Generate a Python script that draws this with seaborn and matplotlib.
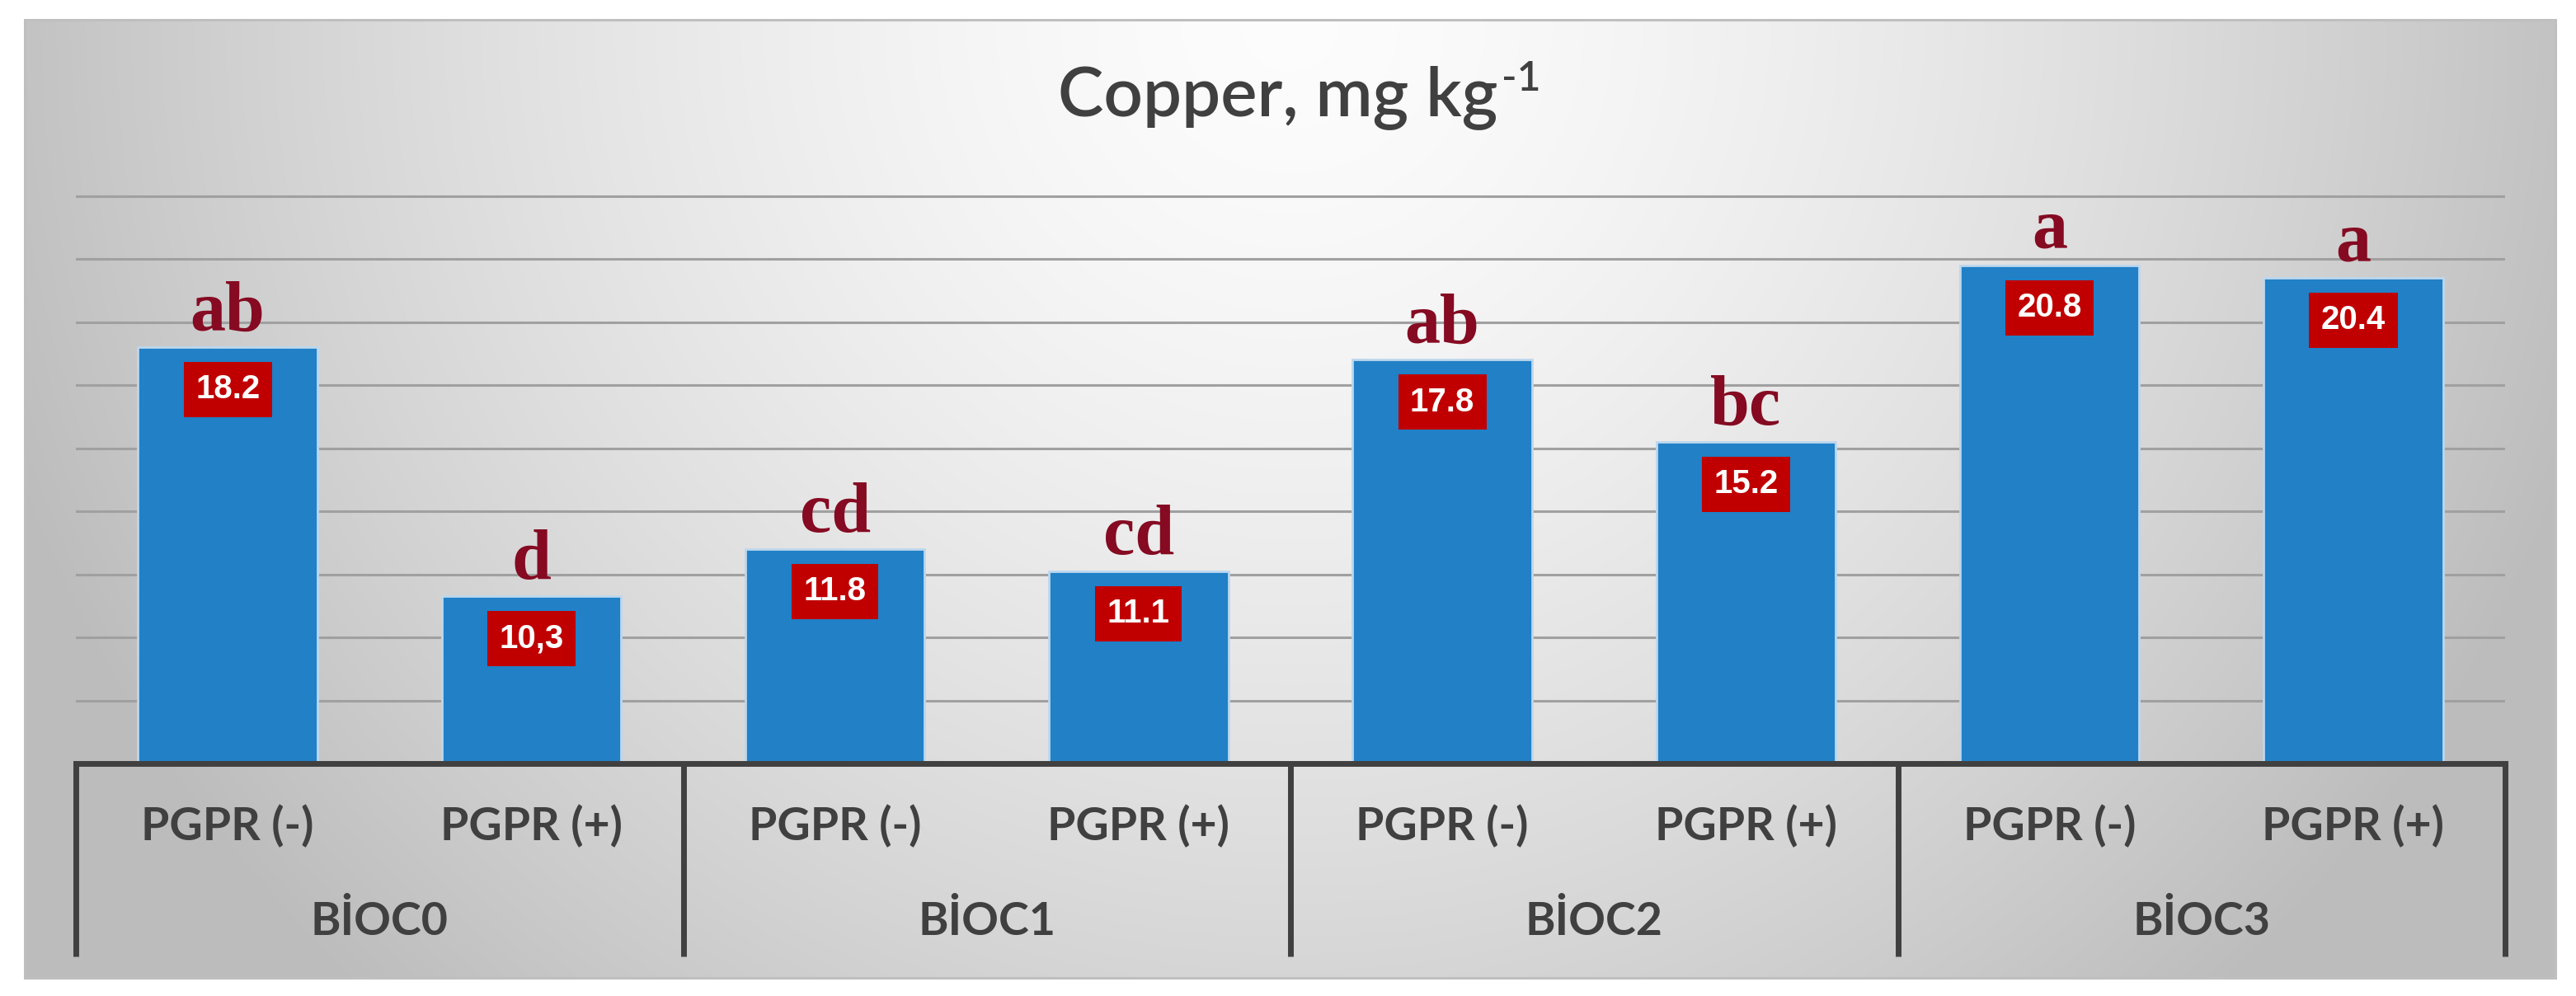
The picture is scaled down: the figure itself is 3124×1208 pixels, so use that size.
import numpy as np
import pandas as pd
import matplotlib
matplotlib.use("Agg")
import matplotlib.pyplot as plt
import matplotlib.transforms as mtransforms
from matplotlib.lines import Line2D
from matplotlib.patches import Rectangle
import seaborn as sns

# ---- data ----
groups = ["BİOC0", "BİOC1", "BİOC2", "BİOC3"]
treatments = ["PGPR (-)", "PGPR (+)"]
values = [18.2, 10.3, 11.8, 11.1, 17.8, 15.2, 20.8, 20.4]
value_labels = ["18.2", "10,3", "11.8", "11.1", "17.8", "15.2", "20.8", "20.4"]
letters = ["ab", "d", "cd", "cd", "ab", "bc", "a", "a"]
title_main = "Copper, mg kg"
title_sup = "-1"
y_min, y_max = 5, 25
y_gridticks = [7, 9, 11, 13, 15, 17, 19, 21, 23]

rows = []
for gi, g in enumerate(groups):
    for ti, t in enumerate(treatments):
        rows.append({"key": f"{g}|{t}", "group": g, "treatment": t,
                     "value": values[gi * 2 + ti]})
df = pd.DataFrame(rows)

sns.set_theme(style="white")
plt.rcParams["font.family"] = ["Lato", "DejaVu Sans"]

W, H = 3124, 1208
fig = plt.figure(figsize=(W / 100, H / 100), dpi=100)
fig.patch.set_facecolor("white")

# ---- gradient background panel ----
fl, fr, ft, fb = 30, 3099, 24, 1186
bg = fig.add_axes([fl / W, 1 - fb / H, (fr - fl) / W, (fb - ft) / H])
nx, ny = 400, 160
xx, yy = np.meshgrid(np.linspace(-1, 1, nx), np.linspace(0, 1, ny))
r = np.sqrt((xx / 1.0) ** 2 + (yy / 1.3) ** 2)
shade = 0.99 - 0.225 * np.clip(r, 0, 1.3) ** 1.5
shade = np.clip(shade, 0.74, 1)
img = np.dstack([shade, shade, shade])
bg.imshow(img, aspect="auto", extent=[0, 1, 0, 1], origin="upper", interpolation="bilinear")
bg.set_xlim(0, 1)
bg.set_ylim(0, 1)
bg.axis("off")
bg.add_patch(Rectangle((0, 0), 1, 1, transform=bg.transAxes, fill=False,
                       edgecolor="#BFBFBF", linewidth=2.2, clip_on=False))

# ---- main axes ----
al, ar, at, ab_ = 92, 3038, 161, 926
ax = fig.add_axes([al / W, 1 - ab_ / H, (ar - al) / W, (ab_ - at) / H])
ax.set_facecolor("none")

sns.barplot(data=df, x="key", y="value", ax=ax, color="#2180C6",
            width=0.59, edgecolor="#BDD7EE", linewidth=2.0, zorder=3,
            saturation=1)

ax.set_xlim(-0.5, len(values) - 0.5)
ax.set_ylim(y_min, y_max)
ax.set_yticks(y_gridticks)
ax.yaxis.grid(True, color="#A0A0A0", linewidth=2.2, zorder=0)
ax.set_axisbelow(True)
ax.tick_params(axis="both", length=0, labelleft=False, labelbottom=False)
ax.set_xlabel("")
ax.set_ylabel("")
for s in ["left", "right", "top"]:
    ax.spines[s].set_visible(False)
ax.spines["bottom"].set_color("#404040")
ax.spines["bottom"].set_linewidth(5)
ax.spines["bottom"].set_zorder(5)

# letters and value boxes
for i, (v, lab, let) in enumerate(zip(values, value_labels, letters)):
    ax.annotate(let, xy=(i, v), xytext=(0, 15), textcoords="offset points",
                ha="center", va="baseline", fontsize=62, fontweight="bold",
                color="#850A22", family=["Liberation Serif", "DejaVu Serif"],
                zorder=6)
    ax.annotate(lab, xy=(i, v), xytext=(0, -37), textcoords="offset points",
                ha="center", va="center", fontsize=29, fontweight="bold",
                color="white", family=["Liberation Sans Narrow", "Liberation Sans", "DejaVu Sans"],
                bbox=dict(boxstyle="square,pad=0.36", facecolor="#C00000", edgecolor="none"),
                zorder=6)

# multi-level category axis
trans = mtransforms.blended_transform_factory(ax.transData, ax.transAxes)
depth = (1160 - ab_) / (ab_ - at)
for xs in [-0.5, 1.5, 3.5, 5.5, 7.5]:
    ax.add_line(Line2D([xs, xs], [0, -depth], transform=trans, color="#404040",
                       linewidth=5, clip_on=False, solid_capstyle="butt"))
for i, row in df.iterrows():
    ax.annotate(row["treatment"], xy=(i, 0), xycoords=trans, xytext=(0, -55),
                textcoords="offset points", ha="center", va="center",
                fontsize=40, fontweight="bold", color="#404040", annotation_clip=False)
for gi, g in enumerate(groups):
    ax.annotate(g, xy=(gi * 2 + 0.5, 0), xycoords=trans, xytext=(0, -138),
                textcoords="offset points", ha="center", va="center",
                fontsize=40, fontweight="bold", color="#404040", annotation_clip=False)

# title with superscript
t_main = fig.text(1550 / W, 1 - 140 / H, title_main, ha="center", va="baseline",
                  fontsize=60, fontweight="semibold", color="#404040")
fig.canvas.draw()
bb = t_main.get_window_extent()
fig.text((bb.x1 + 4) / W, (bb.y0 + 0.6 * bb.height) / H, title_sup,
         ha="left", va="baseline", fontsize=36, fontweight="semibold", color="#404040")

fig.savefig("out.png", dpi=100, facecolor="white")
